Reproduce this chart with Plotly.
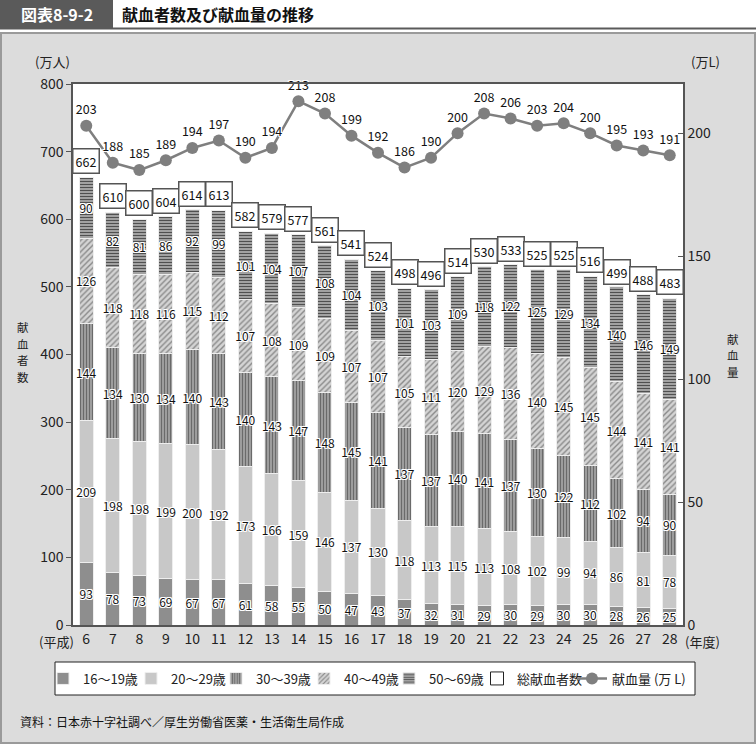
import plotly.graph_objects as go

years = ["6","7","8","9","10","11","12","13","14","15","16","17","18","19","20","21","22","23","24","25","26","27","28"]
age16_19 = [93,78,73,69,67,67,61,58,55,50,47,43,37,32,31,29,30,29,30,30,28,26,25]
age20_29 = [209,198,198,199,200,192,173,166,159,146,137,130,118,113,115,113,108,102,99,94,86,81,78]
age30_39 = [144,134,130,134,140,143,140,143,147,148,145,141,137,137,140,141,137,130,122,112,102,94,90]
age40_49 = [126,118,118,116,115,112,107,108,109,109,107,107,105,111,120,129,136,140,145,145,144,141,141]
age50_69 = [90,82,81,86,92,99,101,104,107,108,104,103,101,103,109,118,122,125,129,134,140,146,149]
totals = [662,610,600,604,614,613,582,579,577,561,541,524,498,496,514,530,533,525,525,516,499,488,483]
volume = [203,188,185,189,194,197,190,194,213,208,199,192,186,190,200,208,206,203,204,200,195,193,191]

FONT = "Noto Sans CJK JP"
W, H = 756, 744
L, R, T, B = 73, 73, 84, 119
PW, PH = W - L - R, H - T - B

def px(x):
    return (x - L) / PW

def py(y):
    return (H - B - y) / PH

halo = "1px 1px 0 #fff, -1px -1px 0 #fff, 1px -1px 0 #fff, -1px 1px 0 #fff, 0 1px 0 #fff, 0 -1px 0 #fff, 1px 0 0 #fff, -1px 0 0 #fff"

# legend text start positions (px)
legend_text_x = [83, 171, 256, 344, 429, 517, 612]
legend_ids = ["legend", "legend2", "legend3", "legend4", "legend5", "legend6", "legend7"]

fig = go.Figure()

series = [
    ("16～19歳", age16_19, dict(color="#8e8e8e")),
    ("20～29歳", age20_29, dict(color="#c8c8c8")),
    ("30～39歳", age30_39, dict(color="#8a8a8a", pattern=dict(shape="|", fgcolor="#6a6a6a", bgcolor="#a8a8a8", size=3, solidity=0.45, fillmode="replace"))),
    ("40～49歳", age40_49, dict(color="#8a8a8a", pattern=dict(shape="/", fgcolor="#8a8a8a", bgcolor="#d4d4d4", size=4, solidity=0.35, fillmode="replace"))),
    ("50～69歳", age50_69, dict(color="#555555", pattern=dict(shape="-", fgcolor="#505050", bgcolor="#bdbdbd", size=3, solidity=0.5, fillmode="replace"))),
]
for i, (name, vals, mk) in enumerate(series):
    mk = dict(mk)
    mk["line"] = dict(color="#eeeeee", width=1)
    fig.add_trace(go.Bar(
        x=years, y=vals, name=name, marker=mk, legend=legend_ids[i],
        text=[str(v) for v in vals], textposition="inside", insidetextanchor="middle",
        textangle=0, constraintext="none",
        textfont=dict(family=FONT, size=12, color="#111", shadow=halo),
        hoverinfo="skip",
    ))

fig.add_trace(go.Scatter(
    x=[None], y=[None], mode="markers", name="総献血者数", legend=legend_ids[5],
    marker=dict(symbol="square", size=13, color="white", line=dict(color="#222", width=1)),
))

fig.add_trace(go.Scatter(
    x=years, y=volume, yaxis="y2", name="献血量 (万 L)", legend=legend_ids[6],
    mode="lines+markers+text",
    line=dict(color="#7f7f7f", width=2.5),
    marker=dict(color="#7f7f7f", size=12),
    text=[str(v) for v in volume], textposition="top center",
    textfont=dict(family=FONT, size=12.5, color="#111", shadow=halo),
    cliponaxis=False,
))

annotations = []
for i, tot in enumerate(totals):
    annotations.append(dict(
        x=i, y=tot, xref="x", yref="y", text=str(tot), showarrow=False,
        yshift=16, bgcolor="white", bordercolor="#555", borderwidth=1.5, borderpad=2,
        font=dict(family=FONT, size=12.5, color="#111"),
    ))

def txt(x, y, s, size=13, color="#222", xanchor="center", bold=False):
    annotations.append(dict(
        x=px(x), y=py(y), xref="paper", yref="paper", text=("<b>%s</b>" % s) if bold else s,
        showarrow=False, xanchor=xanchor, yanchor="middle",
        font=dict(family=FONT, size=size, color=color),
    ))

txt(57, 14, "図表8-9-2", size=16, color="white", bold=True)
txt(120, 14, "献血者数及び献血量の推移", size=16, color="#111", xanchor="left", bold=True)
txt(52, 62, "(万人)", size=13)
txt(705, 62, "(万L)", size=13)
for k, ch in enumerate("献血者数"):
    txt(23, 327 + 16.5 * k, ch, size=11.5)
for k, ch in enumerate("献血量"):
    txt(733, 338.5 + 16.5 * k, ch, size=11.5)
txt(56, 641, "(平成)", size=13)
txt(702, 641, "(年度)", size=13)
txt(18, 721, "資料：日本赤十字社調べ／厚生労働省医薬・生活衛生局作成", size=12, color="#111", xanchor="left")

shapes = [
    dict(type="rect", xref="paper", yref="paper", x0=px(0), x1=px(756), y0=py(0), y1=py(32),
         fillcolor="white", line=dict(width=0), layer="below"),
    dict(type="rect", xref="paper", yref="paper", x0=px(0), x1=px(113), y0=py(0), y1=py(28),
         fillcolor="#5a5a5a", line=dict(width=0), layer="below"),
    dict(type="line", xref="paper", yref="paper", x0=px(0), x1=px(756), y0=py(28.5), y1=py(28.5),
         line=dict(color="#5a5a5a", width=2), layer="below"),
    dict(type="rect", xref="paper", yref="paper", x0=px(1), x1=px(755), y0=py(33), y1=py(743),
         fillcolor="rgba(0,0,0,0)", line=dict(color="#9a9a9a", width=2), layer="below"),
    dict(type="rect", xref="paper", yref="paper", x0=px(55), x1=px(695), y0=py(662), y1=py(695),
         fillcolor="white", line=dict(color="#222", width=1), layer="below"),
]

layout_legends = {}
for lid, tx in zip(legend_ids, legend_text_x):
    layout_legends[lid] = dict(
        orientation="h", x=px(tx - 40), xanchor="left", y=py(678.5), yanchor="middle",
        bgcolor="rgba(0,0,0,0)", borderwidth=0, itemwidth=30,
        font=dict(family=FONT, size=13, color="#222"),
    )

fig.update_layout(
    width=W, height=H, margin=dict(l=L, r=R, t=T, b=B, autoexpand=False),
    paper_bgcolor="#dcdcdc", plot_bgcolor="white",
    barmode="stack", bargap=0.47,
    font=dict(family=FONT, size=13, color="#222"),
    annotations=annotations, shapes=shapes,
    xaxis=dict(type="category", range=[-0.5, len(years) - 0.5], showline=True, linecolor="#555",
               linewidth=1.5, mirror=True, ticks="", tickfont=dict(size=14, color="#222"), showgrid=False),
    yaxis=dict(range=[0, 800], tickvals=list(range(0, 801, 100)), showgrid=False, zeroline=False,
               showline=True, linecolor="#555", linewidth=1.5, ticks="outside", ticklen=5, tickcolor="#555",
               tickfont=dict(size=14, color="#222")),
    yaxis2=dict(range=[0, 220], tickvals=[0, 50, 100, 150, 200], overlaying="y", side="right",
                showgrid=False, zeroline=False, showline=True, linecolor="#555", linewidth=1.5,
                ticks="inside", ticklen=5, tickcolor="#555", tickfont=dict(size=14, color="#222")),
    yaxis3=dict(range=[0, 800 / 39], dtick=1, overlaying="y", side="left", showticklabels=False,
                showgrid=True, gridcolor="#c9c9c9", gridwidth=2, zeroline=False, ticks=""),
    yaxis4=dict(range=[-0.5, 800 / 39 - 0.5], dtick=1, overlaying="y", side="left", showticklabels=False,
                showgrid=True, gridcolor="#8c8c8c", gridwidth=1, zeroline=False, ticks=""),
    showlegend=True,
    **layout_legends,
)

fig.write_html("out.html", config={"displayModeBar": False},
               post_script="document.body.style.margin='0';")
